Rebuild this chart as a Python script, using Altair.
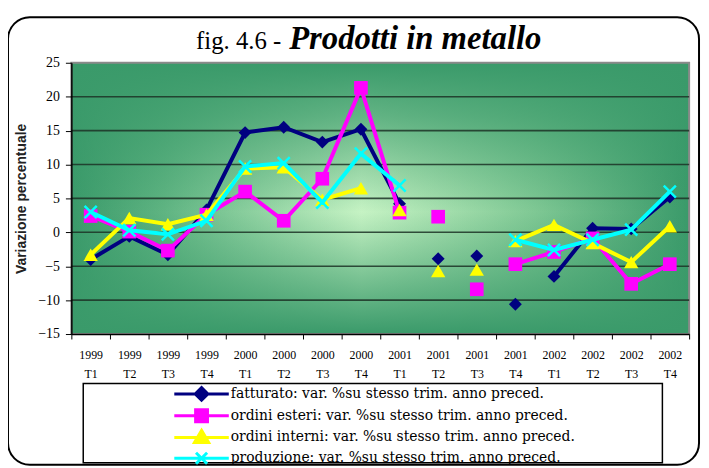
import altair as alt
import pandas as pd

quarters = ["1999 T1", "1999 T2", "1999 T3", "1999 T4",
            "2000 T1", "2000 T2", "2000 T3", "2000 T4",
            "2001 T1", "2001 T2", "2001 T3", "2001 T4",
            "2002 T1", "2002 T2", "2002 T3", "2002 T4"]

series_names = [
    "fatturato: var. %su stesso trim. anno preced.",
    "ordini esteri: var. %su stesso trim. anno preced.",
    "ordini interni: var. %su stesso trim. anno preced.",
    "produzione: var. %su stesso trim. anno preced.",
]

fatturato = [-4.0, -0.6, -3.3, 3.3, 14.7, 15.5, 13.3, 15.2, 4.2, -3.9, -3.5, -10.6, -6.5, 0.6, 0.5, 5.2]
ordini_esteri = [2.4, 0.1, -2.7, 2.6, 6.0, 1.7, 7.9, 21.3, 2.9, 2.3, -8.4, -4.7, -2.9, -0.9, -7.6, -4.7]
ordini_interni = [-3.3, 2.1, 1.2, 2.6, 9.4, 9.6, 4.8, 6.5, 3.3, -5.7, -5.5, -1.3, 1.1, -1.6, -4.4, 0.9]
produzione = [3.0, 0.3, -0.3, 1.7, 9.7, 10.2, 4.4, 11.6, 6.9, None, None, -1.1, -2.6, -1.1, 0.4, 6.0]

# which points are joined by a drawn line (same id = joined)
seg_fatturato = [0] * 9 + [1, 2, 3] + [4] * 4
seg_esteri = [0] * 9 + [1, 2] + [3] * 5
seg_interni = [0] * 8 + [1, 2, 3] + [4] * 5
seg_produzione = [0] * 9 + [1, 2] + [3] * 5

grid_values = [-10, -5, 0, 5, 10, 15, 20]
y_ticks = [-15, -10, -5, 0, 5, 10, 15, 20, 25]

title_left = "fig. 4.6 -"
title_right = "Prodotti in metallo"
y_title = "Variazione percentuale"

colors = ["#000080", "#FF00FF", "#FFFF00", "#00FFFF"]
marker_shapes = ["diamond", "square", "triangle-up", "M-1,-1L1,1M-1,1L1,-1"]
marker_sizes = [170, 190, 210, 150]
legend_paths = [
    "M-3.44,0L3.44,0M0,-0.8L0.8,0L0,0.8L-0.8,0Z",
    "M-3.44,0L3.44,0M-0.75,-0.75L0.75,-0.75L0.75,0.75L-0.75,0.75Z",
    "M-3.44,0L3.44,0M0,-0.9L0.9,0.65L-0.9,0.65Z",
    "M-3.44,0L3.44,0M-0.7,-0.7L0.7,0.7M-0.7,0.7L0.7,-0.7",
]

rows = []
for name, vals, segs in zip(series_names,
                            [fatturato, ordini_esteri, ordini_interni, produzione],
                            [seg_fatturato, seg_esteri, seg_interni, seg_produzione]):
    for q, v, s in zip(quarters, vals, segs):
        if v is not None:
            rows.append({"quarter": q, "serie": name, "value": v, "seg": s})
df = pd.DataFrame(rows)
grid_df = pd.DataFrame({"g": grid_values})
title_df = pd.DataFrame({"a": [title_left], "b": [title_right]})

W, H = 624, 274
SERIF = "Liberation Serif"

y_scale = alt.Scale(domain=[-15, 25], nice=False, zero=False)
y_axis = alt.Axis(values=y_ticks, title=y_title, grid=False,
                  tickSize=6, labelPadding=6, titlePadding=9, zindex=1)

x_enc = alt.X(
    "quarter:N", sort=quarters, bandPosition=0.5,
    scale=alt.Scale(type="band", domain=quarters, paddingInner=0, paddingOuter=0),
    axis=alt.Axis(title=None, labelExpr="split(datum.label, ' ')", labelAngle=0,
                  tickBand="extent", tickSize=5, labelLineHeight=19, labelPadding=11,
                  labelBaseline="top", grid=False, zindex=1),
)
y_enc = alt.Y("value:Q", scale=y_scale, axis=y_axis)

base_rect = alt.Chart(title_df)

bg_h = base_rect.mark_rect(
    color=alt.LinearGradient(
        gradient="linear", x1=0, x2=1, y1=0, y2=0,
        stops=[alt.GradientStop(offset=0, color="#3a9a6a"),
               alt.GradientStop(offset=0.15, color="#5fb482"),
               alt.GradientStop(offset=0.47, color="#c6f3c4"),
               alt.GradientStop(offset=0.75, color="#7fc894"),
               alt.GradientStop(offset=1, color="#3a9a6a")])
).encode(x=alt.value(0), x2=alt.value(W), y=alt.value(0), y2=alt.value(H))

bg_v = base_rect.mark_rect(
    color=alt.LinearGradient(
        gradient="linear", x1=0, x2=0, y1=0, y2=1,
        stops=[alt.GradientStop(offset=0, color="rgba(58,154,106,1)"),
               alt.GradientStop(offset=0.2, color="rgba(58,154,106,0.7)"),
               alt.GradientStop(offset=0.55, color="rgba(58,154,106,0)"),
               alt.GradientStop(offset=0.82, color="rgba(58,154,106,0.6)"),
               alt.GradientStop(offset=1, color="rgba(58,154,106,1)")]),
    stroke="#8a8a8a", strokeWidth=2,
).encode(x=alt.value(0), x2=alt.value(W), y=alt.value(0), y2=alt.value(H))

grid = alt.Chart(grid_df).mark_rule(color="#1c3326", strokeWidth=1.6, opacity=0.85).encode(
    y=alt.Y("g:Q", scale=y_scale, axis=y_axis)
)

layers = [bg_h, bg_v, grid]
for name, col, shp, sz in zip(series_names, colors, marker_shapes, marker_sizes):
    sub = alt.Chart(df).transform_filter(alt.datum.serie == name)
    line = sub.mark_line(color=col, strokeWidth=4).encode(x=x_enc, y=y_enc, detail="seg:N")
    if shp.startswith("M"):
        pts = sub.mark_point(shape=shp, size=sz, filled=False, stroke=col, strokeWidth=2.5, opacity=1)
    else:
        pts = sub.mark_point(shape=shp, size=sz, filled=True, color=col, opacity=1)
    layers += [line, pts.encode(x=x_enc, y=y_enc)]

leg = alt.Legend(title=None, orient="none", legendX=122, legendY=325, direction="vertical",
                 symbolSize=256, symbolStrokeWidth=3, symbolOpacity=1,
                 labelFont="DejaVu Serif", labelFontSize=14, labelColor="black", labelOffset=20,
                 rowPadding=-5.5, padding=0, labelLimit=600)
legend_layer = alt.Chart(df).transform_filter("false").mark_point(opacity=1, strokeWidth=3).encode(
    fill=alt.Fill("serie:N", scale=alt.Scale(domain=series_names, range=colors), legend=leg),
    stroke=alt.Stroke("serie:N", scale=alt.Scale(domain=series_names, range=colors), legend=leg),
    shape=alt.Shape("serie:N", scale=alt.Scale(domain=series_names, range=legend_paths), legend=leg),
)

legend_box = base_rect.mark_rect(fill="transparent", stroke="black", strokeWidth=1.5).encode(
    x=alt.value(12), x2=alt.value(597), y=alt.value(324), y2=alt.value(404))
outer_box = base_rect.mark_rect(fill="transparent", stroke="black", strokeWidth=2, cornerRadius=22).encode(
    x=alt.value(-64), x2=alt.value(634), y=alt.value(-46), y2=alt.value(406))

t1 = base_rect.mark_text(align="left", baseline="alphabetic", font=SERIF, fontSize=25, color="black").encode(
    x=alt.value(126), y=alt.value(-14), text="a:N")
t2 = base_rect.mark_text(align="left", baseline="alphabetic", font=SERIF, fontSize=33,
                         fontStyle="italic", fontWeight="bold", color="black").encode(
    x=alt.value(220), y=alt.value(-14), text="b:N")

chart = alt.layer(*layers, legend_layer, legend_box, outer_box, t1, t2).resolve_scale(
    fill="independent", stroke="independent", shape="independent"
).properties(
    width=W, height=H,
    autosize=alt.AutoSizeParams(type="none"),
    padding={"left": 64, "top": 53, "right": 12, "bottom": 133},
    background="white",
).configure_view(stroke=None).configure_axis(
    labelFont=SERIF, labelColor="black", tickColor="black", domainColor="black",
    domainWidth=1.5, labelFontSize=12,
).configure_axisY(
    labelFontSize=14, titleFont="Liberation Sans", titleFontWeight="bold",
    titleFontSize=14, titleColor="#222",
)

chart.save("out.html", embed_options={"renderer": "svg", "actions": False})
